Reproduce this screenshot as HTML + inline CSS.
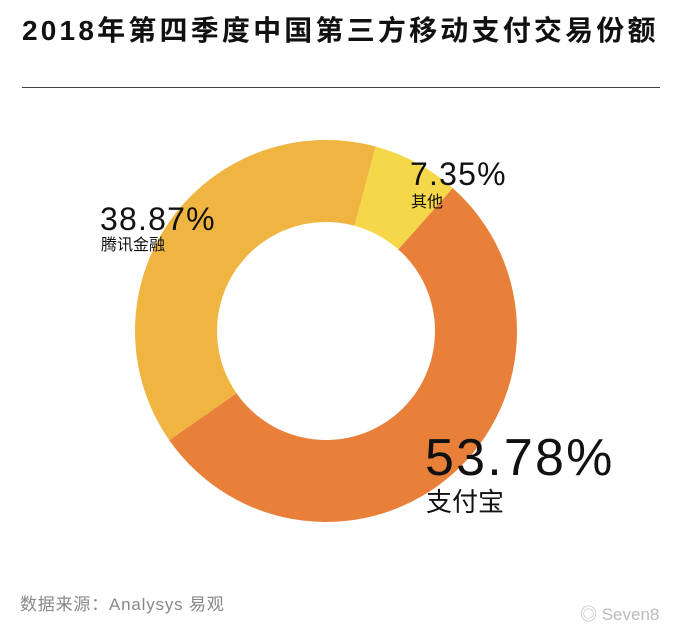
<!DOCTYPE html>
<html><head><meta charset="utf-8">
<style>
body{margin:0;width:686px;height:636px;background:#fff;overflow:hidden;font-family:"Liberation Sans","Noto Sans CJK SC",sans-serif;}
#title{position:absolute;left:22px;top:9px;font-size:28px;font-weight:bold;color:#111;letter-spacing:3.2px;white-space:nowrap;}
#rule{position:absolute;left:22px;top:87px;width:638px;height:1px;background:#444;}
#src{position:absolute;left:20px;top:590px;font-size:17px;color:#888;letter-spacing:0.8px;}
#wm{position:absolute;left:580px;top:600px;font-size:17px;color:#bbb;}
svg{position:absolute;left:0;top:0;}
</style></head><body>
<div id="title">2018年第四季度中国第三方移动支付交易份额</div>
<div id="rule"></div>
<svg id="chart" width="686" height="636"></svg>
<div id="src">数据来源：Analysys 易观</div>
<div id="wm">◎ Seven8</div>
<script>
const categories=["其他","支付宝","腾讯金融"];
const values=[7.35,53.78,38.87];
const colors=["#F5D849","#E8803A","#F0B541"];
const NS="http://www.w3.org/2000/svg";
const svg=document.getElementById('chart');
const cx=326,cy=331,R=191,r=109,startDeg=15.1;
const total=values.reduce((a,b)=>a+b,0);
function pt(deg,rad){const a=(deg-90)*Math.PI/180;return [cx+rad*Math.cos(a),cy+rad*Math.sin(a)];}
let acc=startDeg;
values.forEach((v,i)=>{
  const sweep=v/total*360,a0=acc,a1=acc+sweep;acc=a1;
  const large=sweep>180?1:0;
  const p0=pt(a0,R),p1=pt(a1,R),q1=pt(a1,r),q0=pt(a0,r);
  const p=document.createElementNS(NS,'path');
  p.setAttribute('d',`M${p0[0]},${p0[1]} A${R},${R} 0 ${large} 1 ${p1[0]},${p1[1]} L${q1[0]},${q1[1]} A${r},${r} 0 ${large} 0 ${q0[0]},${q0[1]} Z`);
  p.setAttribute('fill',colors[i]);
  
  
  svg.appendChild(p);
});
const labelPos=[[410,185,32,16,1.2,22],[425,475,52,26,2.2,36],[100,230,32,16,1.2,20]];
values.forEach((v,i)=>{
  const [x,y,fs,cs,ls,gap]=labelPos[i];
  const t=document.createElementNS(NS,'text');
  t.setAttribute('x',x);t.setAttribute('y',y);
  t.setAttribute('font-size',fs);t.setAttribute('fill','#111');
  t.setAttribute('letter-spacing',ls);
  t.textContent=v.toFixed(2)+'%';
  
  
  svg.appendChild(t);
  const c=document.createElementNS(NS,'text');
  c.setAttribute('x',x+1);c.setAttribute('y',y+gap);
  c.setAttribute('font-size',cs);c.setAttribute('fill','#111');
  c.setAttribute('font-family','"Noto Sans CJK SC",sans-serif');
  c.textContent=categories[i];
  
  
  svg.appendChild(c);
});
</script>
</body></html>
